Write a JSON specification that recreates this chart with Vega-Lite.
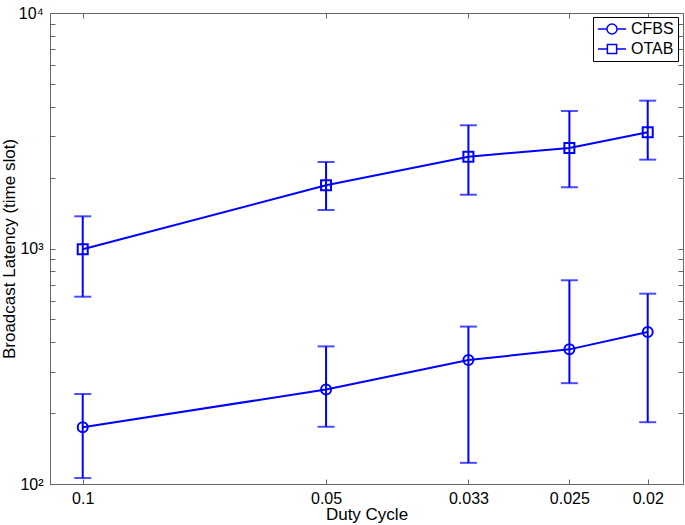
{
  "$schema": "https://vega.github.io/schema/vega-lite/v6.json",
  "width": 633,
  "height": 471,
  "autosize": "none",
  "padding": {"left": 50, "top": 13, "right": 2, "bottom": 41},
  "background": "white",
  "config": {
    "view": {"stroke": "#666666", "strokeWidth": 1},
    "font": "Liberation Sans",
    "axis": {
      "grid": false,
      "domainColor": "#666666",
      "tickColor": "#666666",
      "tickSize": -5,
      "labelFont": "Liberation Sans",
      "labelColor": "#000000",
      "titleFont": "Liberation Sans",
      "titleFontSize": 17,
      "titleFontWeight": "normal",
      "titleColor": "#000000"
    }
  },
  "data": {
    "values": [
      {"dc": 0.1, "series": "CFBS", "mean": 174, "lo": 106, "hi": 241},
      {"dc": 0.05, "series": "CFBS", "mean": 252, "lo": 175, "hi": 384},
      {"dc": 0.033333, "series": "CFBS", "mean": 336, "lo": 123, "hi": 466},
      {"dc": 0.025, "series": "CFBS", "mean": 373, "lo": 268, "hi": 733},
      {"dc": 0.02, "series": "CFBS", "mean": 442, "lo": 183, "hi": 643},
      {"dc": 0.1, "series": "OTAB", "mean": 992, "lo": 624, "hi": 1370},
      {"dc": 0.05, "series": "OTAB", "mean": 1855, "lo": 1457, "hi": 2330},
      {"dc": 0.033333, "series": "OTAB", "mean": 2454, "lo": 1692, "hi": 3336},
      {"dc": 0.025, "series": "OTAB", "mean": 2672, "lo": 1820, "hi": 3837},
      {"dc": 0.02, "series": "OTAB", "mean": 3114, "lo": 2384, "hi": 4243}
    ]
  },
  "resolve": {
    "axis": {"x": "independent", "y": "independent"},
    "scale": {"shape": "independent"},
    "legend": {"shape": "independent"}
  },
  "layer": [
    {
      "mark": {"type": "rule", "color": "#0000ff", "strokeWidth": 2},
      "encoding": {
        "x": {
          "field": "dc", "type": "quantitative",
          "scale": {"type": "log", "domain": [0.018088, 0.10977], "reverse": true, "nice": false},
          "axis": {
            "orient": "bottom",
            "values": [0.1, 0.05, 0.033333, 0.025, 0.02],
            "labelExpr": "format(datum.value, '.2~g')",
            "labelFontSize": 16,
            "labelPadding": 11,
            "title": "Duty Cycle",
            "titlePadding": 0
          }
        },
        "y": {
          "field": "lo", "type": "quantitative",
          "scale": {"type": "log", "domain": [100, 10000], "nice": false},
          "axis": {
            "orient": "left",
            "values": [100, 200, 300, 400, 500, 600, 700, 800, 900, 1000, 2000, 3000, 4000, 5000, 6000, 7000, 8000, 9000, 10000],
            "labelExpr": "datum.value == 100 ? '10²' : datum.value == 1000 ? '10³' : datum.value == 10000 ? '10⁴' : ''",
            "labelFontSize": 16,
            "labelPadding": 12,
            "title": "Broadcast Latency (time slot)",
            "titlePadding": 0
          }
        },
        "y2": {"field": "hi"},
        "detail": {"field": "series"}
      }
    },
    {
      "mark": {"type": "tick", "orient": "horizontal", "color": "#0000ff", "size": 17, "thickness": 2},
      "encoding": {
        "x": {"field": "dc", "type": "quantitative", "axis": null},
        "y": {"field": "lo", "type": "quantitative", "axis": null}
      }
    },
    {
      "mark": {"type": "tick", "orient": "horizontal", "color": "#0000ff", "size": 17, "thickness": 2},
      "encoding": {
        "x": {"field": "dc", "type": "quantitative", "axis": null},
        "y": {"field": "hi", "type": "quantitative", "axis": null}
      }
    },
    {
      "mark": {"type": "line", "color": "#0000ff", "strokeWidth": 2},
      "encoding": {
        "x": {"field": "dc", "type": "quantitative", "axis": null},
        "y": {"field": "mean", "type": "quantitative", "axis": null},
        "detail": {"field": "series"}
      }
    },
    {
      "mark": {"type": "point", "filled": false, "color": "#0000ff", "strokeWidth": 2, "opacity": 1},
      "encoding": {
        "x": {
          "field": "dc", "type": "quantitative",
          "axis": {"orient": "top", "values": [0.1, 0.05, 0.033333, 0.025, 0.02], "labels": false, "title": null}
        },
        "y": {
          "field": "mean", "type": "quantitative",
          "axis": {
            "orient": "right",
            "values": [100, 200, 300, 400, 500, 600, 700, 800, 900, 1000, 2000, 3000, 4000, 5000, 6000, 7000, 8000, 9000, 10000],
            "labels": false, "title": null
          }
        },
        "shape": {
          "field": "series", "type": "nominal",
          "scale": {"domain": ["CFBS", "OTAB"], "range": ["circle", "square"]},
          "legend": null
        },
        "size": {"value": 100}
      }
    },
    {
      "mark": {"type": "point", "filled": false, "color": "#0000ff", "strokeWidth": 1.5, "opacity": 0},
      "encoding": {
        "x": {"field": "dc", "type": "quantitative", "axis": null},
        "y": {"field": "mean", "type": "quantitative", "axis": null},
        "shape": {
          "field": "series", "type": "nominal",
          "scale": {
            "domain": ["CFBS", "OTAB"],
            "range": [
              "M-1,0L-0.36,0A0.36,0.36,0,1,1,0.36,0A0.36,0.36,0,1,1,-0.36,0M0.36,0L1,0",
              "M-1,0L-0.33,0L-0.33,-0.33L0.33,-0.33L0.33,0.33L-0.33,0.33L-0.33,0M0.33,0L1,0"
            ]
          },
          "legend": {
            "title": null,
            "orient": "none",
            "legendX": 543,
            "legendY": 4,
            "strokeColor": "#000000",
            "fillColor": "#ffffff",
            "padding": 4,
            "cornerRadius": 0,
            "symbolSize": 784,
            "symbolStrokeWidth": 1.5,
            "symbolStrokeColor": "#0000ff",
            "symbolFillColor": "transparent",
            "symbolOpacity": 1,
            "labelFontSize": 16,
            "labelFont": "Liberation Sans",
            "labelColor": "#000000",
            "labelOffset": 4,
            "clipHeight": 16,
            "rowPadding": 4
          }
        },
        "size": {"value": 784}
      }
    }
  ]
}
